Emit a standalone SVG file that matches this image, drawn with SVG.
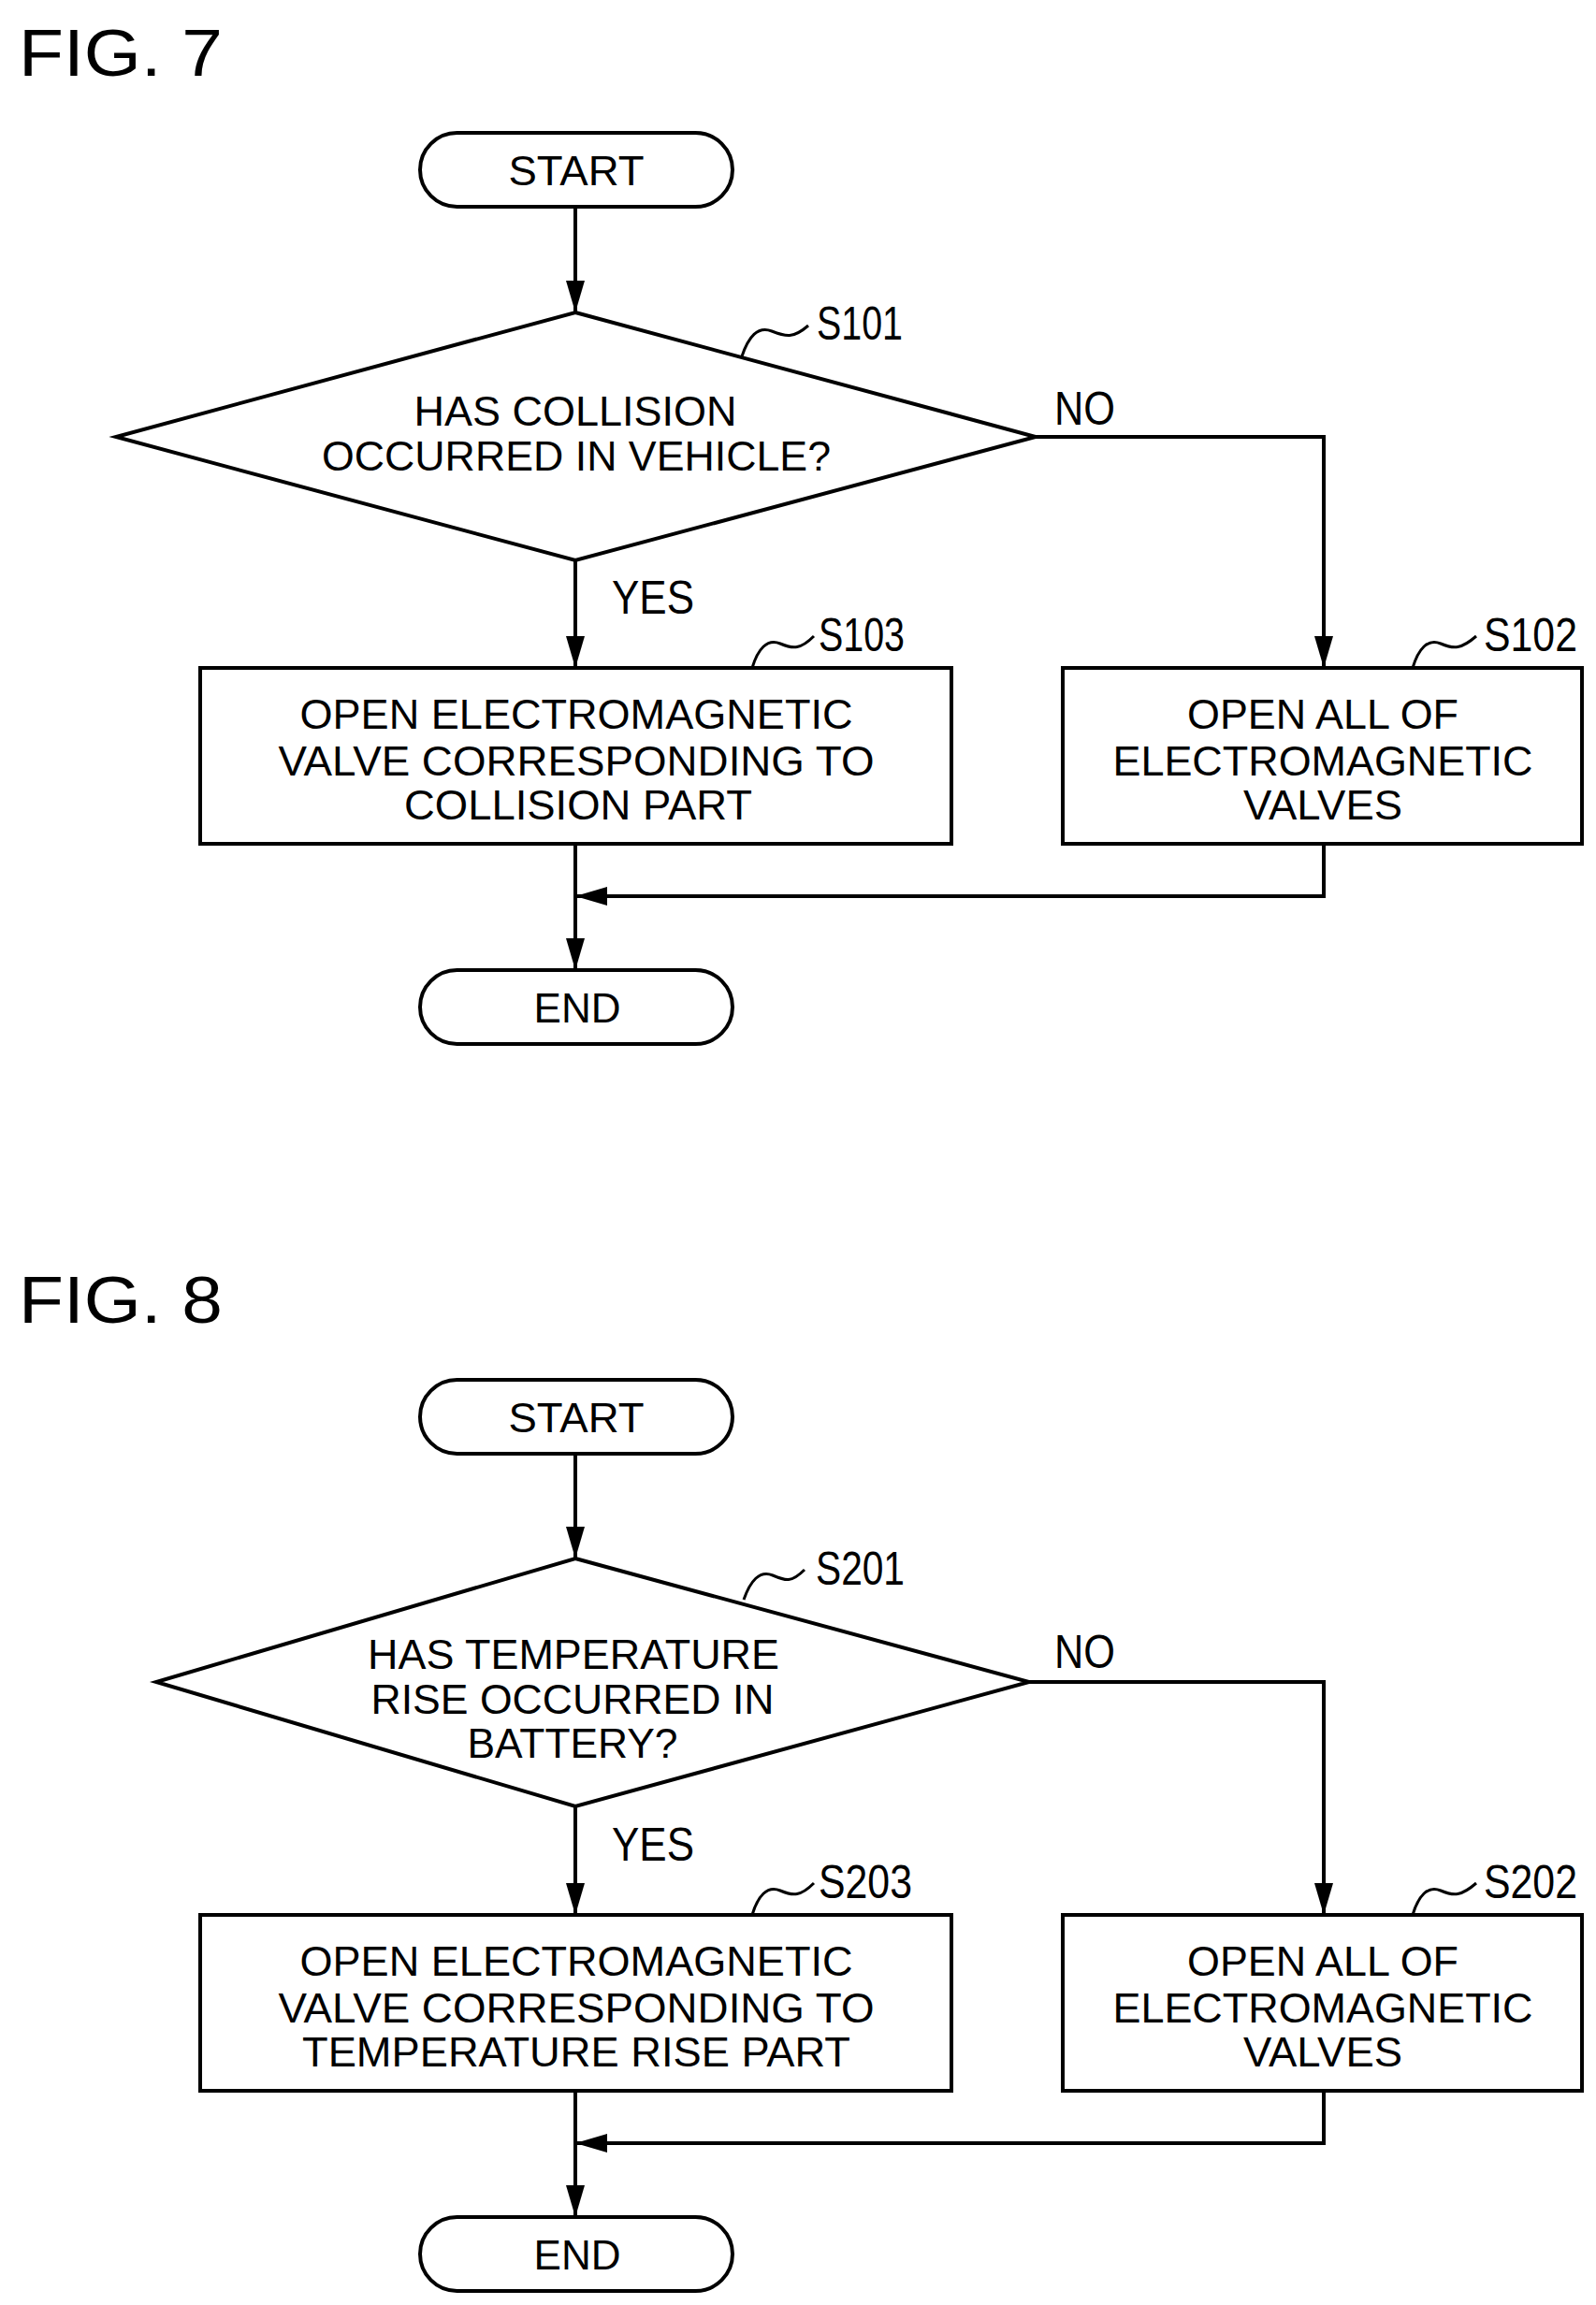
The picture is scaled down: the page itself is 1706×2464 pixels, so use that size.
<svg xmlns="http://www.w3.org/2000/svg" width="1706" height="2464" viewBox="0 0 1706 2464">
<style>
text{font-family:"Liberation Sans",Arial,sans-serif;fill:#000}
.t{font-size:45px;text-anchor:middle}
.l{font-size:50px}
.f{font-size:70px}
.s{fill:#fff;stroke:#000;stroke-width:4}
.c{fill:none;stroke:#000;stroke-width:4}
.q{fill:none;stroke:#000;stroke-width:3}
</style>
<defs>
<marker id="a" markerUnits="userSpaceOnUse" markerWidth="34" markerHeight="20" refX="34" refY="10" orient="auto" viewBox="0 0 34 20">
<path d="M0 0L34 10L0 20z" fill="#000"/>
</marker>
</defs>
<rect width="1706" height="2464" fill="#fff"/>
<text class="f" x="20" y="81" textLength="218" lengthAdjust="spacingAndGlyphs">FIG. 7</text>
<text class="f" x="20" y="1414" textLength="218" lengthAdjust="spacingAndGlyphs">FIG. 8</text>

<g id="connectors">
<path class="c" d="M615 221V334" marker-end="url(#a)"/>
<path class="c" d="M615 599V714" marker-end="url(#a)"/>
<path class="c" d="M1107 467H1415V714" marker-end="url(#a)"/>
<path class="c" d="M1415 902V958H615" marker-end="url(#a)"/>
<path class="c" d="M615 902V1037" marker-end="url(#a)"/>
<path class="q" d="M793 381C800 360 810 348 825 354S848 362 864 348"/>
<path class="q" d="M804 714C810 694 820 682 834 688S856 694 870 680"/>
<path class="q" d="M1510 714C1516 694 1526 682 1540 688S1562 694 1578 680"/>
<text class="l" x="654" y="656" textLength="88" lengthAdjust="spacingAndGlyphs">YES</text>
<text class="l" x="1127" y="454" textLength="65" lengthAdjust="spacingAndGlyphs">NO</text>

<path class="c" d="M615 1554V1666" marker-end="url(#a)"/>
<path class="c" d="M615 1931V2047" marker-end="url(#a)"/>
<path class="c" d="M1100 1798H1415V2047" marker-end="url(#a)"/>
<path class="c" d="M1415 2235V2291H615" marker-end="url(#a)"/>
<path class="c" d="M615 2235V2370" marker-end="url(#a)"/>
<path class="q" d="M795 1710C802 1690 812 1678 826 1684S846 1692 860 1678"/>
<path class="q" d="M804 2047C810 2027 820 2015 834 2021S856 2027 870 2013"/>
<path class="q" d="M1510 2047C1516 2027 1526 2015 1540 2021S1562 2027 1578 2013"/>
<text class="l" x="654" y="1989" textLength="88" lengthAdjust="spacingAndGlyphs">YES</text>
<text class="l" x="1127" y="1783" textLength="65" lengthAdjust="spacingAndGlyphs">NO</text>
</g>

<g id="start7"><rect class="s" x="449" y="142" width="334" height="79" rx="39.5"/><text class="t" x="616" y="198" textLength="145" lengthAdjust="spacingAndGlyphs">START</text></g>
<g id="s101"><path class="s" d="M615 334L1107 467L615 599L124 467Z"/>
<text class="t" x="615" y="455" textLength="345" lengthAdjust="spacingAndGlyphs">HAS COLLISION</text>
<text class="t" x="616" y="503" textLength="544" lengthAdjust="spacingAndGlyphs">OCCURRED IN VEHICLE?</text>
<text class="l" x="873" y="363" textLength="92" lengthAdjust="spacingAndGlyphs">S101</text></g>
<g id="s103"><rect class="s" x="214" y="714" width="803" height="188"/>
<text class="t" x="616" y="779" textLength="591" lengthAdjust="spacingAndGlyphs">OPEN ELECTROMAGNETIC</text>
<text class="t" x="616" y="829" textLength="637" lengthAdjust="spacingAndGlyphs">VALVE CORRESPONDING TO</text>
<text class="t" x="618" y="876" textLength="372" lengthAdjust="spacingAndGlyphs">COLLISION PART</text>
<text class="l" x="875" y="696" textLength="92" lengthAdjust="spacingAndGlyphs">S103</text></g>
<g id="s102"><rect class="s" x="1136" y="714" width="555" height="188"/>
<text class="t" x="1414" y="779" textLength="290" lengthAdjust="spacingAndGlyphs">OPEN ALL OF</text>
<text class="t" x="1414" y="829" textLength="449" lengthAdjust="spacingAndGlyphs">ELECTROMAGNETIC</text>
<text class="t" x="1414" y="876" textLength="170" lengthAdjust="spacingAndGlyphs">VALVES</text>
<text class="l" x="1586" y="696" textLength="100" lengthAdjust="spacingAndGlyphs">S102</text></g>
<g id="end7"><rect class="s" x="449" y="1037" width="334" height="79" rx="39.5"/><text class="t" x="617" y="1093" textLength="93" lengthAdjust="spacingAndGlyphs">END</text></g>

<g id="start8"><rect class="s" x="449" y="1475" width="334" height="79" rx="39.5"/><text class="t" x="616" y="1531" textLength="145" lengthAdjust="spacingAndGlyphs">START</text></g>
<g id="s201"><path class="s" d="M615 1666L1100 1798L615 1931L167 1798Z"/>
<text class="t" x="613" y="1784" textLength="440" lengthAdjust="spacingAndGlyphs">HAS TEMPERATURE</text>
<text class="t" x="612" y="1832" textLength="431" lengthAdjust="spacingAndGlyphs">RISE OCCURRED IN</text>
<text class="t" x="612" y="1879" textLength="225" lengthAdjust="spacingAndGlyphs">BATTERY?</text>
<text class="l" x="872" y="1694" textLength="95" lengthAdjust="spacingAndGlyphs">S201</text></g>
<g id="s203"><rect class="s" x="214" y="2047" width="803" height="188"/>
<text class="t" x="616" y="2112" textLength="591" lengthAdjust="spacingAndGlyphs">OPEN ELECTROMAGNETIC</text>
<text class="t" x="616" y="2162" textLength="637" lengthAdjust="spacingAndGlyphs">VALVE CORRESPONDING TO</text>
<text class="t" x="616" y="2209" textLength="586" lengthAdjust="spacingAndGlyphs">TEMPERATURE RISE PART</text>
<text class="l" x="875" y="2029" textLength="100" lengthAdjust="spacingAndGlyphs">S203</text></g>
<g id="s202"><rect class="s" x="1136" y="2047" width="555" height="188"/>
<text class="t" x="1414" y="2112" textLength="290" lengthAdjust="spacingAndGlyphs">OPEN ALL OF</text>
<text class="t" x="1414" y="2162" textLength="449" lengthAdjust="spacingAndGlyphs">ELECTROMAGNETIC</text>
<text class="t" x="1414" y="2209" textLength="170" lengthAdjust="spacingAndGlyphs">VALVES</text>
<text class="l" x="1586" y="2029" textLength="100" lengthAdjust="spacingAndGlyphs">S202</text></g>
<g id="end8"><rect class="s" x="449" y="2370" width="334" height="79" rx="39.5"/><text class="t" x="617" y="2426" textLength="93" lengthAdjust="spacingAndGlyphs">END</text></g>
</svg>
